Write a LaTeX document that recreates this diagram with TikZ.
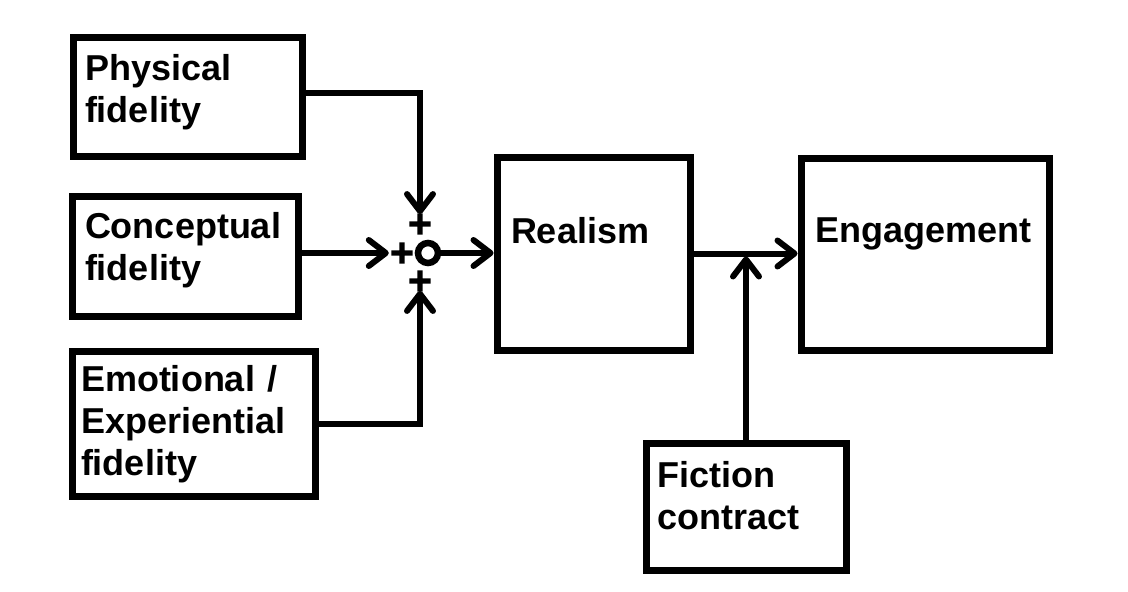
\documentclass[tikz,border=0pt]{standalone}
\usepackage{fontspec}
\setmainfont{Liberation Sans}
\newfontfamily\plusfamily[FakeBold=6]{DejaVu Sans}
\usetikzlibrary{arrows.meta}

\tikzset{
  blockbox/.style={draw, line width=7pt, rectangle, inner ysep=0pt, align=left,
    anchor=north west, font=\fontsize{36}{42}\selectfont\bfseries},
  wire/.style={line width=6pt, -{Straight Barb[length=17pt,width=26pt,round]}},
  plussign/.style={inner sep=0pt, font=\plusfamily\bfseries\fontsize{31}{31}\selectfont},
}

\begin{document}
\begin{tikzpicture}[x=1pt,y=-1pt]
\useasboundingbox (0,0) rectangle (1128,592);

% Drawing the three fidelity boxes
\node[blockbox, inner xsep=12pt, text width=205pt, text height=43pt, text depth=76pt] (phys) at (69.5,33.5) {Physical\\fidelity};%
\node[blockbox, inner xsep=13pt, text width=200pt, text height=42pt, text depth=78pt] (conc) at (68.5,192.5) {Conceptual\\fidelity};%
\node[blockbox, inner xsep=9pt, text width=225pt, text height=40pt, text depth=105pt] (emot) at (68.5,347.5) {Emotional /\\Experiential\\fidelity};%

% Drawing the other boxes
\node[blockbox, inner xsep=14pt, text width=165pt, text height=86pt, text depth=107pt] (real) at (493.5,153.5) {Realism};%
\node[blockbox, inner xsep=14pt, text width=220pt, text height=84pt, text depth=108pt] (enga) at (797.5,154.5) {Engagement};%
\node[blockbox, inner xsep=11pt, text width=178pt, text height=44pt, text depth=83pt] (fict) at (642.5,439.5) {Fiction\\contract};%

% Drawing summing point
\node[circle, draw, line width=6.5pt, minimum size=20pt, inner sep=0pt] (sum) at (428,253) {};%
\node[plussign] (plustop) at (420,224) {+};%
\node[plussign] (plusleft) at (402,253) {+};%
\node[plussign] (plusbot) at (420,281) {+};%

% Drawing connectors
\draw[wire] ([yshift=4pt]phys.east) -| (plustop);%
\draw[wire] (conc.east |- plusleft) -- (plusleft);%
\draw[wire] (emot.east) -| (plusbot);%
\draw[wire] (sum) -- (real.west |- sum);%
\draw[wire] (real.east) -- (enga.west |- real.east);%
\coordinate (joint) at (fict.north |- real.east);%
\draw[wire, shorten >=3pt] (fict) -- (joint);%
\end{tikzpicture}
\end{document}
